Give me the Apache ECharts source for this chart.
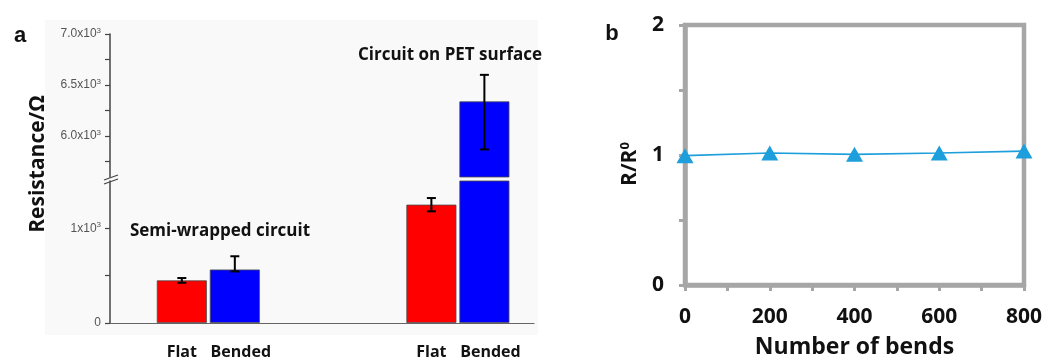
<!DOCTYPE html>
<html><head><meta charset="utf-8">
<script src="https://cdn.jsdelivr.net/npm/echarts@6/dist/echarts.min.js"></script>
<style>html,body{margin:0;padding:0;background:#fff}#c{width:1045px;height:358px}</style>
</head><body><div id="c"></div>
<script>
// ---- data ----
const groups = ['Semi-wrapped circuit', 'Circuit on PET surface'];
const conditions = ['Flat', 'Bended'];
const flatValues = [450, 1250];
const bendedValues = [565, 6340];
const flatErr = [[425, 475], [1180, 1320]];
const bendedErr = [[545, 705], [5870, 6600]];
const lowerLabelValues = [0, 1000];
const lowerTickValues = [0, 500, 1000];
const upperLabelValues = [6000, 6500, 7000];
const upperTickValues = [5750, 6000, 6250, 6500, 6750, 7000];
const bends = [0, 200, 400, 600, 800];
const ratio = [0.995, 1.015, 1.005, 1.015, 1.03];

const BOLD = 'Open Sans';
const BAR_W = 50, HALF_OFF = 26.5;

function fmtLeft(v) {
  if (v === 0) return '0';
  if (v === 1000) return '1x10{s|3}';
  return (v / 1000).toFixed(1) + 'x10{s|3}';
}
const leftLabelStyle = {
  fontFamily: 'Liberation Sans', fontSize: 12, color: '#555', margin: 9,
  formatter: fmtLeft,
  rich: { s: { fontSize: 8, color: '#555', fontFamily: 'Liberation Sans', padding: [0, 0, 7, 0] } }
};

function barSeries(idx, vals, color, grid, offset) {
  return {
    type: 'bar', name: conditions[idx], xAxisIndex: grid, yAxisIndex: grid,
    data: vals.map((v, i) => [i, v]), barWidth: BAR_W, barGap: '6%',
    itemStyle: { color: color, borderColor: '#4a4a4a', borderWidth: 0.8 },
    label: {
      show: grid === 0, position: 'bottom', distance: 21, formatter: conditions[idx],
      fontFamily: BOLD, fontWeight: 'bold', fontSize: 16, color: '#111', offset: offset
    },
    silent: true, animation: false
  };
}
function errSeries(errs, dir, grid) {
  return {
    type: 'custom', xAxisIndex: grid, yAxisIndex: grid, clip: true, z: 10, silent: true, animation: false,
    data: errs.map((e, i) => [i, e[0], e[1]]),
    renderItem: function (params, api) {
      const x = api.value(0);
      const lo = api.coord([x, api.value(1)]);
      const hi = api.coord([x, api.value(2)]);
      const cx = lo[0] + dir * HALF_OFF;
      const c = 4.5;
      const st = { stroke: '#000', lineWidth: 2 };
      return { type: 'group', children: [
        { type: 'line', shape: { x1: cx, y1: hi[1], x2: cx, y2: lo[1] }, style: st },
        { type: 'line', shape: { x1: cx - c, y1: hi[1], x2: cx + c, y2: hi[1] }, style: st },
        { type: 'line', shape: { x1: cx - c, y1: lo[1], x2: cx + c, y2: lo[1] }, style: st }
      ] };
    }
  };
}

const chart = echarts.init(document.getElementById('c'));
const gray = '#a6a6a6';
chart.setOption({
  animation: false,
  backgroundColor: '#fff',
  grid: [
    { left: 110, top: 181, width: 424, height: 142, outerBoundsMode: 'none', containLabel: false },
    { left: 110, top: 34, width: 424, height: 143, outerBoundsMode: 'none', containLabel: false },
    { left: 685, top: 25, width: 339, height: 260, outerBoundsMode: 'none', containLabel: false,
      show: true, borderColor: gray, borderWidth: 4.5, backgroundColor: 'transparent' }
  ],
  xAxis: [
    { gridIndex: 0, type: 'value', min: -0.394, max: 1.305, axisLine: { show: true, onZero: false, lineStyle: { color: '#666', width: 1.2 } },
      axisTick: { show: false }, axisLabel: { show: false }, splitLine: { show: false } },
    { gridIndex: 1, type: 'value', min: -0.394, max: 1.305, show: false, axisLine: { onZero: false }, splitLine: { show: false } },
    { gridIndex: 2, type: 'value', min: 0, max: 800, interval: 200,
      axisLine: { show: true, onZero: false, lineStyle: { color: gray, width: 4.5 } },
      axisTick: { show: true, length: 6, lineStyle: { color: gray, width: 3 } },
      minorTick: { show: true, splitNumber: 2, length: 6, lineStyle: { color: gray, width: 3 } },
      splitLine: { show: false },
      axisLabel: { fontFamily: BOLD, fontWeight: 'bold', fontSize: 21, color: '#111', margin: 22 },
      name: 'Number of bends', nameLocation: 'middle', nameGap: 51,
      nameTextStyle: { fontFamily: BOLD, fontWeight: 'bold', fontSize: 23, color: '#111' } }
  ],
  yAxis: [
    { gridIndex: 0, type: 'value', min: 0, max: 1500,
      axisLine: { show: true, onZero: false, lineStyle: { color: '#444', width: 1.5 } },
      axisTick: { show: true, length: 5, customValues: lowerTickValues, lineStyle: { color: '#444', width: 1.2 } },
      axisLabel: Object.assign({ customValues: lowerLabelValues }, leftLabelStyle),
      splitLine: { show: false } },
    { gridIndex: 1, type: 'value', min: 5600, max: 7000,
      axisLine: { show: true, onZero: false, lineStyle: { color: '#444', width: 1.5 } },
      axisTick: { show: true, length: 5, customValues: upperTickValues, lineStyle: { color: '#444', width: 1.2 } },
      axisLabel: Object.assign({ customValues: upperLabelValues }, leftLabelStyle),
      splitLine: { show: false } },
    { gridIndex: 2, type: 'value', min: 0, max: 2, interval: 1,
      axisLine: { show: true, onZero: false, lineStyle: { color: gray, width: 4.5 } },
      axisTick: { show: true, length: 6, lineStyle: { color: gray, width: 3 } },
      minorTick: { show: true, splitNumber: 2, length: 6, lineStyle: { color: gray, width: 3 } },
      splitLine: { show: false },
      axisLabel: { fontFamily: BOLD, fontWeight: 'bold', fontSize: 21, color: '#111', margin: 21 },
      name: 'R/R{s|0}', nameLocation: 'middle', nameGap: 43,
      nameTextStyle: { fontFamily: BOLD, fontWeight: 'bold', fontSize: 21, color: '#111', padding: [0, 18, 0, 0],
        rich: { s: { fontFamily: BOLD, fontWeight: 'bold', fontSize: 13, color: '#111', padding: [0, 0, 10, 0] } } } }
  ],
  series: [
    barSeries(0, flatValues, '#ff0000', 0, [0, 0]),
    barSeries(1, bendedValues, '#0000ff', 0, [6, 0]),
    barSeries(0, flatValues, '#ff0000', 1, [0, 0]),
    barSeries(1, bendedValues, '#0000ff', 1, [6, 0]),
    errSeries(flatErr, -1, 0), errSeries(bendedErr, 1, 0),
    errSeries(flatErr, -1, 1), errSeries(bendedErr, 1, 1),
    { type: 'line', xAxisIndex: 2, yAxisIndex: 2, data: bends.map((b, i) => [b, ratio[i]]),
      symbol: 'triangle', symbolSize: [17, 15], itemStyle: { color: '#1e9fdc' },
      lineStyle: { color: '#1e9fdc', width: 1.6 }, z: 5, silent: true }
  ],
  graphic: [
    { type: 'rect', z: -10, shape: { x: 45, y: 20, width: 493, height: 315 }, style: { fill: '#f9f9f9' } },
    { type: 'line', z: 50, shape: { x1: 104, y1: 180, x2: 118, y2: 175 }, style: { stroke: '#444', lineWidth: 1.2 } },
    { type: 'line', z: 50, shape: { x1: 104, y1: 184, x2: 118, y2: 179 }, style: { stroke: '#444', lineWidth: 1.2 } },
    { type: 'text', z: 50, x: 38, y: 164, rotation: Math.PI / 2,
      style: { text: 'Resistance/Ω', fontFamily: BOLD, fontWeight: 'bold', fontSize: 21, fill: '#111', align: 'center', verticalAlign: 'middle' } },
    { type: 'text', z: 50, x: 220, y: 231,
      style: { text: groups[0], fontFamily: BOLD, fontWeight: 'bold', fontSize: 17, fill: '#111', align: 'center', verticalAlign: 'middle' } },
    { type: 'text', z: 50, x: 450, y: 55,
      style: { text: groups[1], fontFamily: BOLD, fontWeight: 'bold', fontSize: 17, fill: '#111', align: 'center', verticalAlign: 'middle' } },
    { type: 'text', z: 50, x: 20, y: 36,
      style: { text: 'a', fontFamily: 'Liberation Sans', fontWeight: 'bold', fontSize: 22, fill: '#111', align: 'center', verticalAlign: 'middle' } },
    { type: 'text', z: 50, x: 612, y: 34,
      style: { text: 'b', fontFamily: 'Liberation Sans', fontWeight: 'bold', fontSize: 22, fill: '#111', align: 'center', verticalAlign: 'middle' } }
  ]
});
</script></body></html>
